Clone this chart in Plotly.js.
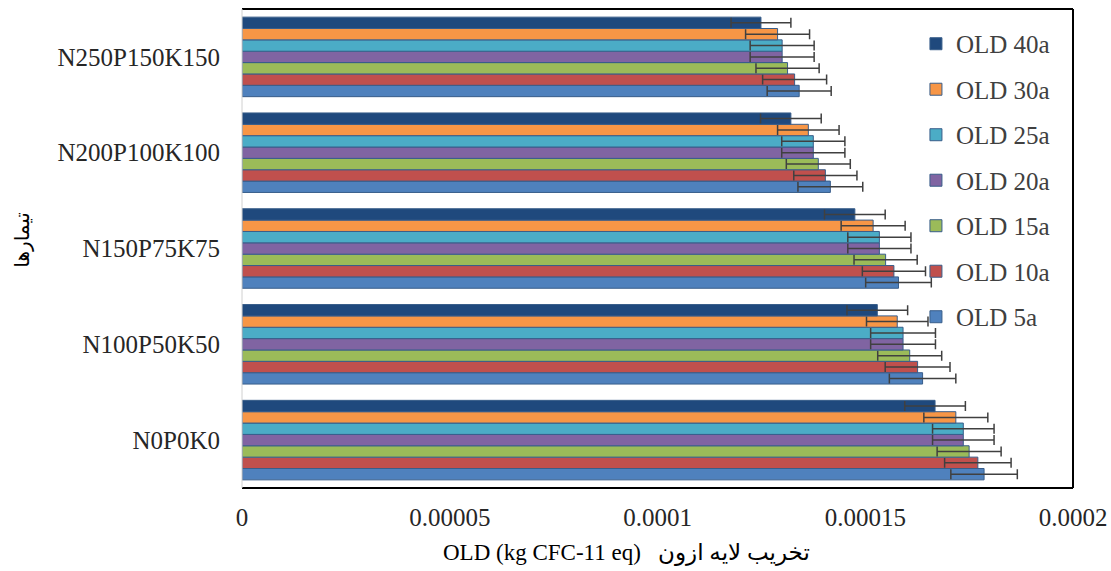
<!DOCTYPE html>
<html>
<head>
<meta charset="utf-8">
<script src="https://cdn.plot.ly/plotly-3.0.1.min.js"></script>
<style>html,body{margin:0;padding:0;background:#fff;}#chart{width:1111px;height:571px;}</style>
</head>
<body>
<div id="chart"></div>
<script>
const categories = ["N0P0K0", "N100P50K50", "N150P75K75", "N200P100K100", "N250P150K150"];
const seriesNames = ["OLD 5a", "OLD 10a", "OLD 15a", "OLD 20a", "OLD 25a", "OLD 30a", "OLD 40a"];
// values in 1e-5 kg CFC-11 eq, order follows categories
const old5a  = [17.86, 16.38, 15.80, 14.16, 13.41];
const old10a = [17.71, 16.26, 15.69, 14.04, 13.30];
const old15a = [17.50, 16.07, 15.49, 13.87, 13.13];
const old20a = [17.36, 15.91, 15.34, 13.75, 13.00];
const old25a = [17.36, 15.91, 15.34, 13.75, 13.00];
const old30a = [17.18, 15.77, 15.19, 13.63, 12.89];
const old40a = [16.68, 15.29, 14.75, 13.21, 12.49];
const err5a  = [0.80, 0.80, 0.79, 0.78, 0.77];
const err10a = [0.80, 0.78, 0.76, 0.76, 0.77];
const err15a = [0.77, 0.77, 0.76, 0.77, 0.76];
const err20a = [0.74, 0.78, 0.76, 0.76, 0.77];
const err25a = [0.74, 0.78, 0.76, 0.76, 0.77];
const err30a = [0.77, 0.74, 0.77, 0.74, 0.77];
const err40a = [0.73, 0.73, 0.73, 0.73, 0.72];
const xTickVals = [0, 0.00005, 0.0001, 0.00015, 0.0002];
const xTickText = ["0", "0.00005", "0.0001", "0.00015", "0.0002"];

const seriesVals = [old5a, old10a, old15a, old20a, old25a, old30a, old40a];
const seriesErr = [err5a, err10a, err15a, err20a, err25a, err30a, err40a];
const colors = ["#4f81bd", "#c0504d", "#9bbb59", "#8064a2", "#4bacc6", "#f79646", "#1f497d"];
const scale = 1e-5;

const traces = seriesNames.map((name, i) => ({
  type: "bar",
  orientation: "h",
  name: name,
  legendgroup: name,
  legendrank: seriesNames.length - i,
  y: categories,
  x: seriesVals[i].map(v => v * scale),
  marker: {color: colors[i], line: {color: "#385d8a", width: 1}},
  error_x: {type: "data", array: seriesErr[i].map(v => v * scale), visible: true,
            color: "#404040", thickness: 1.5, width: 5}
}));

const font = "Liberation Serif";
const layout = {
  width: 1111, height: 571,
  margin: {l: 242, r: 38, t: 9, b: 83},
  paper_bgcolor: "#fff", plot_bgcolor: "#fff",
  barmode: "group", bargap: 0.17, bargroupgap: 0,
  showlegend: true,
  legend: {x: 0.811, y: 0.975, xanchor: "left", yanchor: "top",
           traceorder: "grouped", tracegroupgap: 10,
           font: {family: font, size: 25, color: "#404040"}, bgcolor: "rgba(0,0,0,0)"},
  xaxis: {range: [0, 0.0002], tickvals: xTickVals, ticktext: xTickText,
          showgrid: false, zeroline: false, showline: false,
          ticks: "outside", ticklen: 7, tickcolor: "rgba(0,0,0,0)",
          tickfont: {family: font, size: 25, color: "#262626"}},
  yaxis: {categoryorder: "array", categoryarray: categories, range: [-0.5, 4.5],
          showgrid: false, zeroline: false, showline: false,
          ticks: "outside", ticklen: 16, tickcolor: "rgba(0,0,0,0)",
          tickfont: {family: font, size: 25, color: "#262626"}},
  shapes: [
    {type: "line", xref: "paper", yref: "paper", x0: 0, x1: 1, y0: 1, y1: 1, line: {color: "#000", width: 2}},
    {type: "line", xref: "paper", yref: "paper", x0: 1, x1: 1, y0: 0, y1: 1, line: {color: "#000", width: 2}},
    {type: "line", xref: "paper", yref: "paper", x0: 0, x1: 1, y0: 0, y1: 0, line: {color: "#000", width: 2}},
    {type: "line", xref: "paper", yref: "paper", x0: 0, x1: 0, y0: 0, y1: 1, line: {color: "#d0d0d0", width: 1}}
  ],
  annotations: [
    {text: "OLD (kg CFC-11 eq)   تخریب لایه ازون", xref: "paper", yref: "paper",
     x: 0.463, y: -0.135, xanchor: "center", yanchor: "middle", showarrow: false,
     font: {family: "Liberation Serif, DejaVu Sans", size: 23, color: "#000"}},
    {text: "تیمارها", xref: "paper", yref: "paper", x: -0.265, y: 0.518,
     xanchor: "center", yanchor: "middle", showarrow: false, textangle: -90,
     font: {family: "DejaVu Sans", size: 20, color: "#000"}}
  ]
};

Plotly.newPlot("chart", traces, layout, {displayModeBar: false, staticPlot: true});
</script>
</body>
</html>
